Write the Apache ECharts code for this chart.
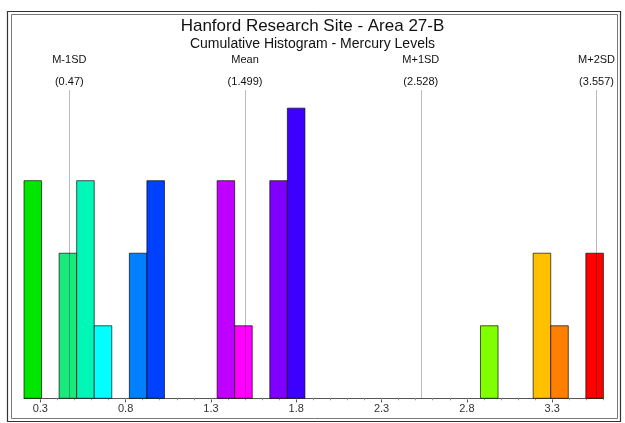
<!DOCTYPE html>
<html>
<head>
<meta charset="utf-8">
<script src="https://cdn.jsdelivr.net/npm/echarts@6/dist/echarts.min.js"></script>
<style>
  html, body { margin: 0; padding: 0; background: #fff; }
  #chart { width: 625px; height: 423px; }
</style>
</head>
<body>
<div id="chart"></div>
<script>
// Histogram bins: lower edge of each filled bin, its count and fill colour
const binWidth = 0.1029;
const binLower = [0.2045, 0.4103, 0.5132, 0.6161, 0.8219, 0.9248, 1.3364, 1.4393,
                  1.6451, 1.7480, 2.8799, 3.1886, 3.2915, 3.4973];
const binCount = [3, 2, 3, 1, 2, 3, 3, 1, 3, 4, 1, 2, 1, 2];
const binColor = ['#00e600', '#19ea7c', '#00f7b8', '#00ffff', '#0080ff', '#0040ff',
                  '#bf00ff', '#ff00ff', '#8000ff', '#3d00ff', '#80ff00', '#ffc000',
                  '#ff8000', '#ff0000'];

// Reference statistics lines
const statNames = ['M-1SD', 'Mean', 'M+1SD', 'M+2SD'];
const statValues = [0.47, 1.499, 2.528, 3.557];

// Axis labelling
const xMin = 0.2045;
const xMax = 3.6002;
const xLabels = [0.3, 0.8, 1.3, 1.8, 2.3, 2.8, 3.3];
const xMinorTicks = [0.3, 0.4, 0.5, 0.6, 0.7, 0.8, 0.9, 1.0, 1.1, 1.2, 1.3, 1.4, 1.5,
                     1.6, 1.7, 1.8, 1.9, 2.0, 2.1, 2.2, 2.3, 2.4, 2.5, 2.6, 2.7, 2.8,
                     2.9, 3.0, 3.1, 3.2, 3.3, 3.4, 3.5, 3.6];

const chart = echarts.init(document.getElementById('chart'), null, { renderer: 'canvas' });

const barData = binLower.map((lo, i) => [lo, lo + binWidth, binCount[i], binColor[i]]);

const FONT = 'Liberation Sans, Arial, sans-serif';

chart.setOption({
  backgroundColor: '#ffffff',
  animation: false,
  title: {
    text: 'Hanford Research Site - Area 27-B',
    subtext: 'Cumulative Histogram - Mercury Levels',
    left: 'center',
    top: 13,
    itemGap: 2,
    textStyle: { fontFamily: FONT, fontSize: 17, fontWeight: 'normal', color: '#111' },
    subtextStyle: { fontFamily: FONT, fontSize: 14, color: '#111' }
  },
  grid: { left: 24, right: 21.6, top: 90, bottom: 24.7, containLabel: false },
  xAxis: [
    {
      type: 'value',
      min: xMin,
      max: xMax,
      splitLine: { show: false },
      axisLine: { show: true, lineStyle: { color: '#555', width: 1 } },
      axisTick: { show: true, customValues: xLabels, length: 4, lineStyle: { color: '#444' } },
      axisLabel: {
        customValues: xLabels,
        formatter: v => v.toFixed(1),
        fontFamily: FONT, fontSize: 11, color: '#333', margin: 5
      }
    },
    {
      type: 'value',
      min: xMin,
      max: xMax,
      position: 'bottom',
      splitLine: { show: false },
      axisLine: { show: false },
      axisTick: { show: true, customValues: xMinorTicks, length: 2, lineStyle: { color: '#999' } },
      axisLabel: { show: false }
    }
  ],
  yAxis: { type: 'value', min: 0, max: 4.25, show: false },
  series: [
    {
      type: 'custom',
      data: barData,
      encode: { x: [0, 1], y: 2 },
      renderItem: (params, api) => {
        const p0 = api.coord([api.value(0), api.value(2)]);
        const p1 = api.coord([api.value(1), 0]);
        return {
          type: 'rect',
          shape: { x: p0[0], y: p0[1], width: p1[0] - p0[0], height: p1[1] - p0[1] },
          style: { fill: binColor[params.dataIndex], stroke: 'rgba(0,0,0,0.65)', lineWidth: 1 }
        };
      },
      z: 2,
      markLine: {
        silent: true,
        symbol: 'none',
        z: 5,
        lineStyle: { color: 'rgba(0,0,0,0.27)', type: 'solid', width: 1 },
        label: {
          show: true,
          position: 'end',
          distance: 1,
          formatter: p => '{a|' + statNames[p.dataIndex] + '}\n{b|(' + statValues[p.dataIndex] + ')}',
          rich: {
            a: { fontFamily: FONT, fontSize: 11, color: '#111', lineHeight: 31 },
            b: { fontFamily: FONT, fontSize: 11, color: '#111', lineHeight: 14 }
          }
        },
        data: statValues.map(v => ({ xAxis: v }))
      }
    }
  ],
  graphic: [
    { type: 'rect', shape: { x: 7.5, y: 11.5, width: 613, height: 410 },
      style: { fill: 'none', stroke: '#333', lineWidth: 1.2 }, z: 100 },
    { type: 'rect', shape: { x: 11.5, y: 14.5, width: 606, height: 404 },
      style: { fill: 'none', stroke: '#777', lineWidth: 1 }, z: 100 }
  ]
});
</script>
</body>
</html>
